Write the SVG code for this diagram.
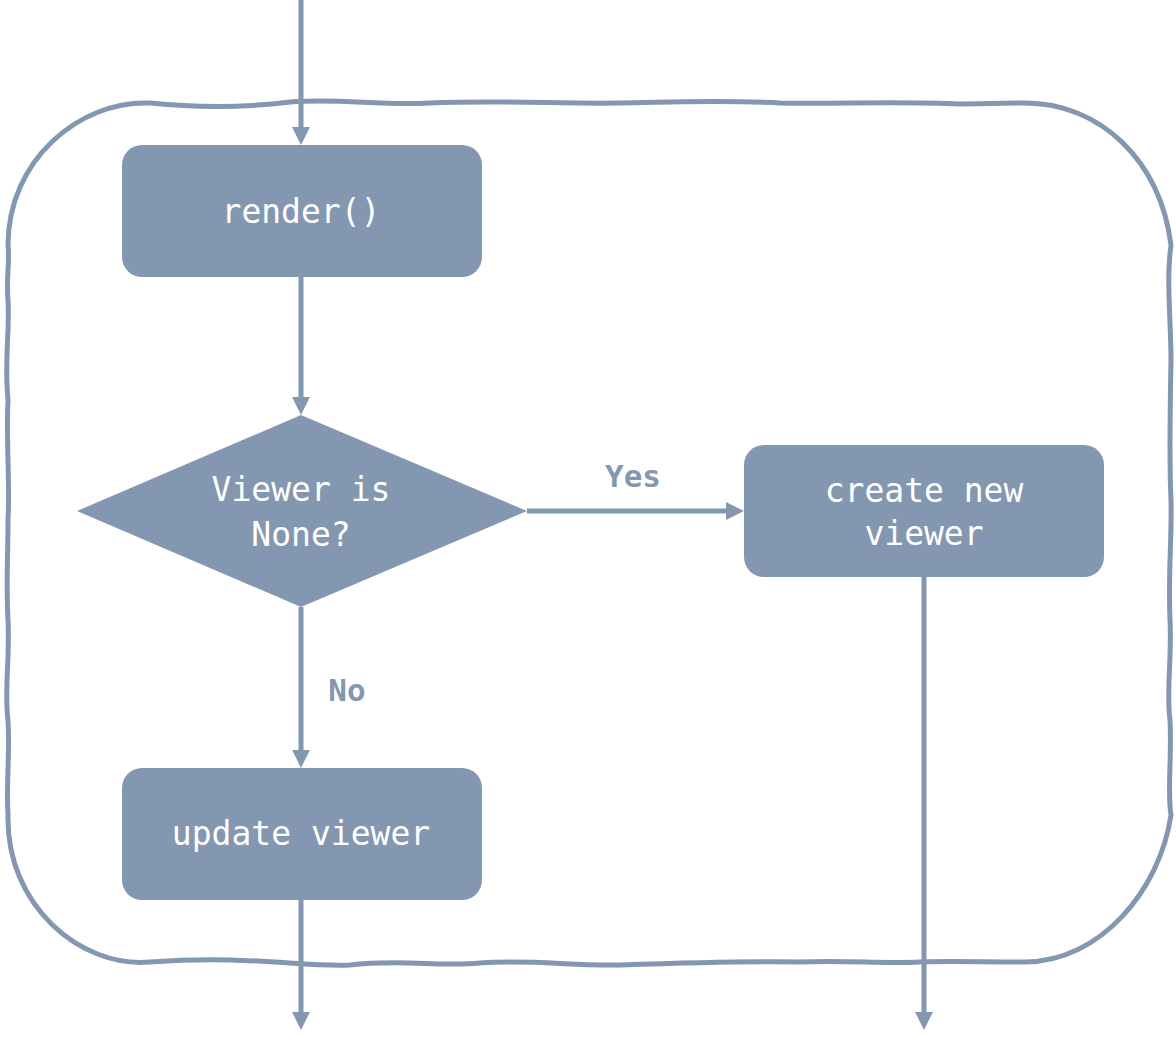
<svg xmlns="http://www.w3.org/2000/svg" width="1176" height="1049" viewBox="0 0 1176 1049">
<style>
.node{fill:#8497b0}
.t{font-family:"DejaVu Sans Mono","Liberation Mono",monospace;font-size:33px;fill:#ffffff;text-anchor:middle}
.lbl{font-family:"DejaVu Sans Mono","Liberation Mono",monospace;font-size:31px;font-weight:bold;fill:#8497b0;text-anchor:middle}
.c{stroke:#8497b0;stroke-width:5;fill:none}
.frame{stroke:#8497b0;stroke-width:5;fill:none}
</style>
<defs>
<marker id="ah" viewBox="0 0 10 10" refX="5.6" refY="5" markerWidth="3.6" markerHeight="3.6" markerUnits="strokeWidth" orient="auto">
<path d="M0,0 L10,5 L0,10 z" fill="#8497b0"/>
</marker>
</defs>
<g id="frame">
<path class="frame" d="M150,103 C200,108 250,107 290,102 C340,98 380,106 430,103 C500,100 560,104 620,103 C680,102 720,100 780,103 C840,104 900,101 960,104 C990,104 1010,103 1025,103 C1100,103 1160,160 1171,245 C1166,280 1171,320 1171,360 C1170,420 1169,460 1171,500 C1172,540 1168,570 1170,620 C1172,660 1166,690 1170,720 C1172,760 1167,790 1171,815 C1160,890 1100,962 1025,962 C980,962 950,961 920,962 C880,964 850,960 800,962 C740,961 680,963 620,965 C570,966 530,959 480,963 C440,967 400,959 350,965 C300,967 250,955 150,962 C80,968 6,905 8,815 C6,780 10,760 8,720 C4,690 10,660 8,620 C6,580 8,560 8,520 C10,480 6,440 8,400 C4,360 10,330 8,300 C6,280 10,260 8,245 C8,160 80,100 150,103 Z"/>
</g>
<g id="connectors">
<line class="c" x1="301" y1="0" x2="301" y2="137" marker-end="url(#ah)"/>
<line class="c" x1="301" y1="277" x2="301" y2="407" marker-end="url(#ah)"/>
<line class="c" x1="527" y1="511" x2="736" y2="511" marker-end="url(#ah)"/>
<line class="c" x1="301" y1="607" x2="301" y2="760" marker-end="url(#ah)"/>
<line class="c" x1="924" y1="577" x2="924" y2="1022" marker-end="url(#ah)"/>
<line class="c" x1="301" y1="900" x2="301" y2="1022" marker-end="url(#ah)"/>
<text class="lbl" x="633" y="487">Yes</text>
<text class="lbl" x="347" y="701">No</text>
</g>
<g id="render">
<rect class="node" x="122" y="145" width="360" height="132" rx="20"/>
<text class="t" x="301" y="223">render()</text>
</g>
<g id="decision">
<polygon class="node" points="301,415 527,511 301,607 77,511"/>
<text class="t" x="301" y="501">Viewer is</text>
<text class="t" x="301" y="546">None?</text>
</g>
<g id="create">
<rect class="node" x="744" y="445" width="360" height="132" rx="20"/>
<text class="t" x="924" y="502">create new</text>
<text class="t" x="924" y="545">viewer</text>
</g>
<g id="update">
<rect class="node" x="122" y="768" width="360" height="132" rx="20"/>
<text class="t" x="301" y="845">update viewer</text>
</g>
</svg>
